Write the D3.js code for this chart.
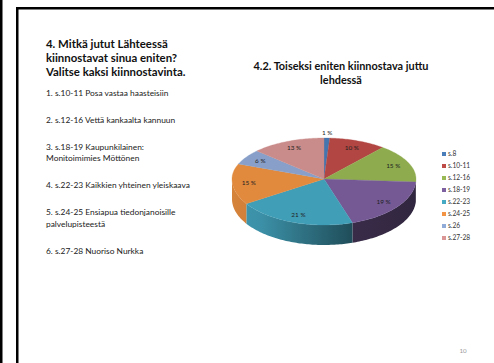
<!DOCTYPE html>
<html>
<head>
<meta charset="utf-8">
<script src="https://cdn.jsdelivr.net/npm/d3@7"></script>
<style>
  html, body { margin: 0; padding: 0; background: #fff; }
  svg { display: block; }
</style>
</head>
<body>
<svg id="slide" width="494" height="363"></svg>
<script>
// Slide content
const questionLines = ["4. Mitkä jutut Lähteessä", "kiinnostavat sinua eniten?", "Valitse kaksi kiinnostavinta."];
const optionItems = [
  ["1. s.10-11 Posa vastaa haasteisiin"],
  ["2. s.12-16 Vettä kankaalta kannuun"],
  ["3. s.18-19 Kaupunkilainen:", "Monitoimimies Möttönen"],
  ["4. s.22-23 Kaikkien yhteinen yleiskaava"],
  ["5. s.24-25 Ensiapua tiedonjanoisille", "palvelupisteestä"],
  ["6. s.27-28 Nuoriso Nurkka"]
];
const chartTitle = ["4.2. Toiseksi eniten kiinnostava juttu", "lehdessä"];
const pageNumber = "10";

// Pie data (percent of answers)
const categories = ["s.8", "s.10-11", "s.12-16", "s.18-19", "s.22-23", "s.24-25", "s.26", "s.27-28"];
const shares = [1, 10, 15, 19, 21, 15, 6, 13];
const colors = ["#4A7EBB", "#BE4B48", "#98B954", "#7D60A0", "#46AAC5", "#F29443", "#91ABD8", "#D99694"];

const svg = d3.select("#slide");
const FONT = "Lato, 'Open Sans', sans-serif";

// Slide frame lines
svg.append("rect").attr("x", 0).attr("y", 0).attr("width", 2.5).attr("height", 363).attr("fill", "#000");
svg.append("rect").attr("x", 16).attr("y", 7).attr("width", 2.5).attr("height", 356).attr("fill", "#000");
svg.append("rect").attr("x", 16).attr("y", 7).attr("width", 478).attr("height", 2.5).attr("fill", "#000");

// Question heading
svg.append("text")
  .attr("font-family", FONT).attr("font-weight", "bold").attr("font-size", 11.4).attr("fill", "#111")
  .selectAll("tspan").data(questionLines).join("tspan")
  .attr("x", 46).attr("y", (d, i) => 48 + i * 14.2).text(d => d);

// Answer options
let yPos = 95.5;
optionItems.forEach(lines => {
  const t = svg.append("text")
    .attr("font-family", FONT).attr("font-size", 8.4).attr("fill", "#222");
  lines.forEach((ln, j) => {
    t.append("tspan").attr("x", 46).attr("y", yPos + j * 11.6).text(ln);
  });
  yPos += (lines.length - 1) * 11.6 + 27;
});

// Chart title
svg.append("text")
  .attr("font-family", FONT).attr("font-weight", "bold").attr("font-size", 10.9).attr("fill", "#111")
  .attr("text-anchor", "middle")
  .selectAll("tspan").data(chartTitle).join("tspan")
  .attr("x", 341).attr("y", (d, i) => 69.5 + i * 14).text(d => d);

// 3D pie geometry
const cx = 324, cy = 179, rx = 92, ryBack = 41, ryFront = 46, depth = 20;
const pt = (a, k = 1) => {
  const c = Math.cos(a);
  return [cx + k * rx * Math.sin(a), cy - k * (c >= 0 ? ryBack : ryFront) * c];
};
const arcPoints = (a0, a1, k = 1, dy = 0) => {
  const n = Math.max(2, Math.ceil(Math.abs(a1 - a0) / 0.02));
  return d3.range(n + 1).map(i => {
    const p = pt(a0 + (a1 - a0) * i / n, k);
    return [p[0], p[1] + dy];
  });
};

const pie = d3.pie().sort(null).value(d => d)
  .startAngle(0).endAngle(2 * Math.PI);
const arcs = pie(shares);

const defs = svg.append("defs");
arcs.forEach((a, i) => {
  const base = d3.color(colors[i]);
  const g = defs.append("linearGradient").attr("id", "side" + i)
    .attr("gradientUnits", "userSpaceOnUse")
    .attr("x1", cx - rx).attr("x2", cx + rx).attr("y1", 0).attr("y2", 0);
  [[0, 0.35], [0.15, 0.45], [0.65, 2.2], [1, 2.6]].forEach(([o, k]) => {
    g.append("stop").attr("offset", o).attr("stop-color", base.darker(k).formatHex());
  });
});

const line = d3.line();
const sides = svg.append("g");
const tops = svg.append("g");

// Visible outer wall: front half of the ellipse
arcs.forEach((a, i) => {
  const s = Math.max(a.startAngle, Math.PI / 2);
  const e = Math.min(a.endAngle, 3 * Math.PI / 2);
  if (e <= s) return;
  const upper = arcPoints(s, e);
  const lower = arcPoints(e, s, 1, depth);
  sides.append("path")
    .attr("d", line(upper.concat(lower)) + "Z")
    .attr("fill", `url(#side${i})`);
});

// Top faces
arcs.forEach((a, i) => {
  const pts = [[cx, cy]].concat(arcPoints(a.startAngle, a.endAngle));
  const fill = d3.color(colors[i]).darker(0.2).formatHex();
  tops.append("path")
    .attr("d", line(pts) + "Z")
    .attr("fill", fill)
    .attr("stroke", fill)
    .attr("stroke-width", 0.3);
});

// Data labels
svg.append("g")
  .attr("font-family", FONT).attr("font-size", 6.4).attr("fill", "#222").attr("text-anchor", "middle")
  .selectAll("text").data(arcs).join("text")
  .attr("transform", d => {
    const mid = (d.startAngle + d.endAngle) / 2;
    const k = d.data < 3 ? 1.12 : 0.82;
    const p = pt(mid, k);
    return `translate(${p[0]},${p[1] + 2.2})`;
  })
  .text(d => d.data + " %");

// Legend
const legend = svg.append("g").attr("font-family", FONT).attr("font-size", 6.6).attr("fill", "#333");
const ly = d3.scalePoint().domain(categories).range([154, 238]);
categories.forEach((c, i) => {
  legend.append("rect").attr("x", 442).attr("y", ly(c) - 2).attr("width", 4).attr("height", 4).attr("fill", colors[i]);
  legend.append("text").attr("x", 448).attr("y", ly(c) + 2.3).text(c);
});

// Page number
svg.append("text").attr("x", 463).attr("y", 353).attr("text-anchor", "middle")
  .attr("font-family", FONT).attr("font-size", 6.2).attr("fill", "#999").text(pageNumber);
</script>
</body>
</html>
